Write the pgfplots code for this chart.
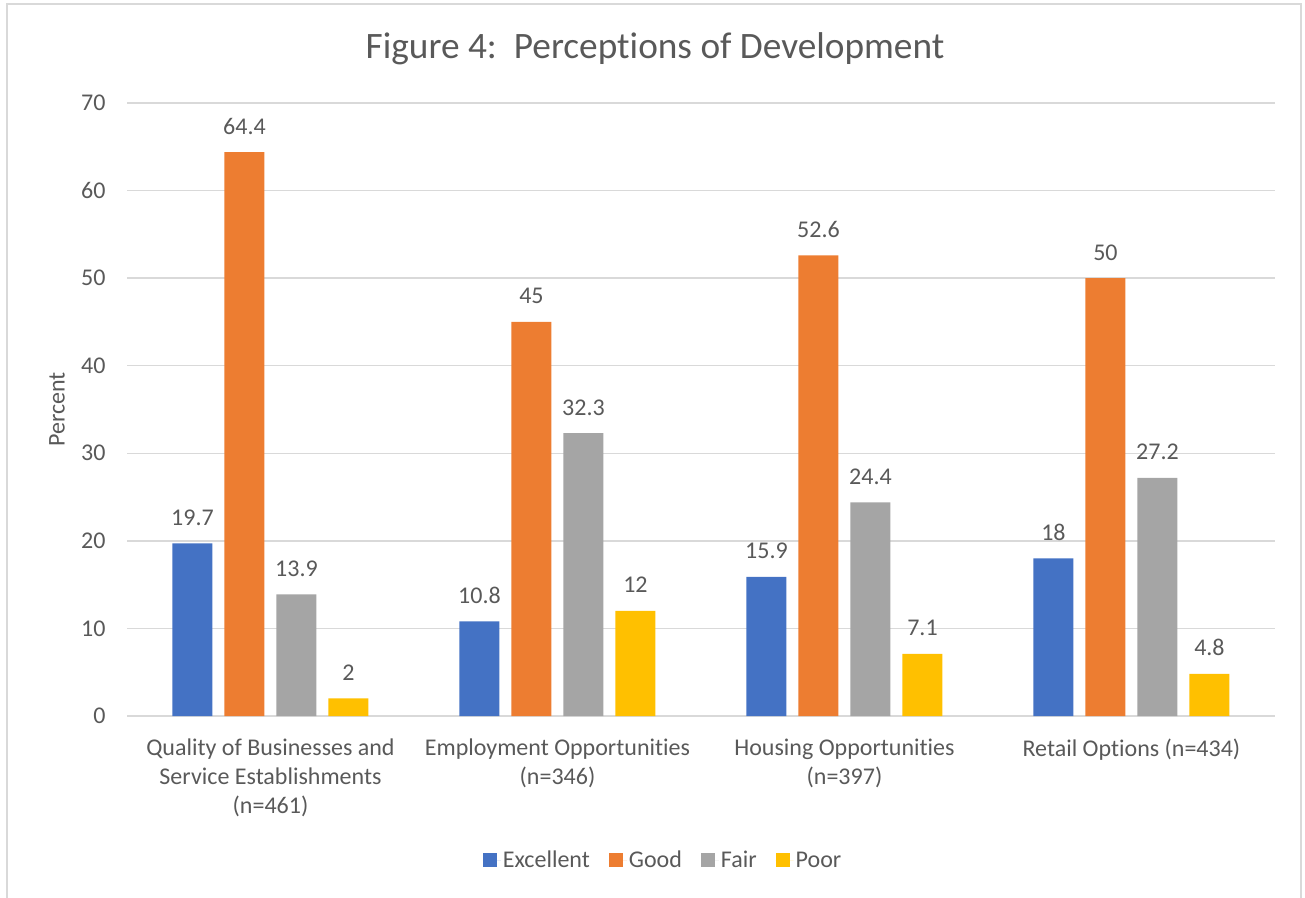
\documentclass[border=0pt]{standalone}
\usepackage{pgfplots}
\pgfplotsset{compat=1.18}
\usepackage{fontspec}
\setmainfont{Carlito}[Ligatures={NoCommon,NoContextual}]

\definecolor{cExcellent}{HTML}{4472C4}
\definecolor{cGood}{HTML}{ED7D31}
\definecolor{cFair}{HTML}{A5A5A5}
\definecolor{cPoor}{HTML}{FFC000}
\definecolor{txtgray}{HTML}{595959}
\definecolor{gridgray}{HTML}{D9D9D9}

\newcommand{\lblfont}{\fontsize{24}{29.3}\selectfont}

\begin{document}
\begin{tikzpicture}
\useasboundingbox (0,0) rectangle (1305pt,897pt);
% chart frame
\draw[gridgray, line width=1.3pt] (7pt,-10pt) rectangle (1301pt,893pt);
% title
\node[anchor=base, text=txtgray, font=\fontsize{37.3}{44}\selectfont]
  at (655pt,838pt) {Figure 4:\ \ Perceptions of Development};

\begin{axis}[
  at={(127pt,181pt)}, anchor=south west,
  scale only axis,
  width=1148pt, height=613pt,
  ybar=12pt, bar width=40pt,
  xmin=-0.5, xmax=3.5,
  ymin=0, ymax=70,
  ytick={0,10,...,70},
  xtick={0,1,2,3},
  xticklabels={{Quality of Businesses and\\Service Establishments\\(n=461)},
               {Employment Opportunities\\(n=346)},
               {Housing Opportunities\\(n=397)},
               {Retail Options (n=434)}},
  /pgf/number format/assume math mode=true,
  major tick length=0pt,
  axis line style={draw=none},
  ymajorgrids,
  grid style={gridgray, line width=1.3pt},
  ticklabel style={font=\lblfont, text=txtgray},
  yticklabel style={xshift=-18pt},
  xticklabel style={align=center, anchor=north, yshift=-19pt},
  ylabel={Percent},
  ylabel style={font=\lblfont, text=txtgray, at={(axis description cs:-0.061,0.5)}, anchor=center},
  nodes near coords,
  every node near coord/.append style={font=\lblfont, text=txtgray, anchor=base, yshift=18pt},
  legend columns=4,
  legend style={draw=none, fill=none, font=\lblfont, text=txtgray,
    at={(0.467,-0.235)}, anchor=center,
    /tikz/every even column/.append style={column sep=17pt}},
  legend image code/.code={\fill[#1] (0pt,-7pt) rectangle (14pt,7pt);
                           \path (0pt,0pt) -- (18pt,0pt);},
]
\addplot[fill=cExcellent, draw=none] coordinates {(0,19.7) (1,10.8) (2,15.9) (3,18)};
\addplot[fill=cGood, draw=none] coordinates {(0,64.4) (1,45) (2,52.6) (3,50)};
\addplot[fill=cFair, draw=none] coordinates {(0,13.9) (1,32.3) (2,24.4) (3,27.2)};
\addplot[fill=cPoor, draw=none] coordinates {(0,2) (1,12) (2,7.1) (3,4.8)};
\legend{Excellent, Good, Fair, Poor}
\end{axis}
\end{tikzpicture}
\end{document}
